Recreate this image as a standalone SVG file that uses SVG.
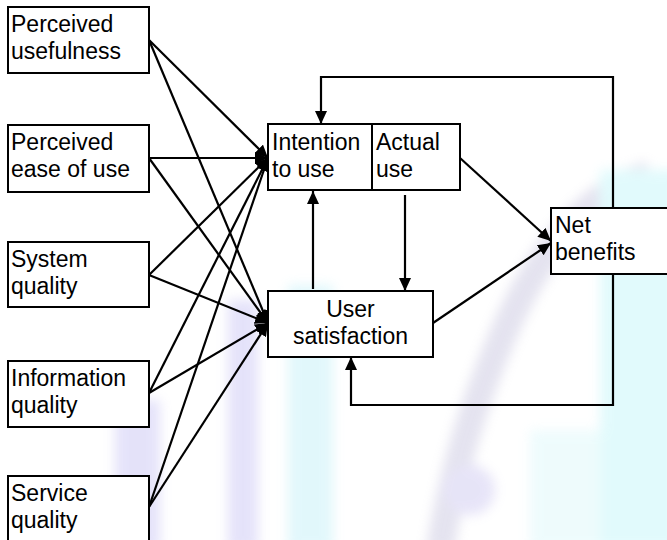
<svg xmlns="http://www.w3.org/2000/svg" width="667" height="540" viewBox="0 0 667 540">
<style>
.box{fill:#fff;stroke:#000;stroke-width:2}
.t{font-family:"Liberation Sans",Arial,sans-serif;font-size:23px;fill:#000}
.c{fill:none;stroke:#000;stroke-width:2.2}
</style>
<defs>
<marker id="ah" markerUnits="userSpaceOnUse" markerWidth="14" markerHeight="12" refX="13" refY="6" orient="auto">
<path d="M0,0 L13,6 L0,12 z" fill="#000"/>
</marker>
<filter id="blur" x="-20%" y="-20%" width="140%" height="140%">
<feGaussianBlur stdDeviation="6"/>
</filter>
</defs>
<rect width="667" height="540" fill="#fff"/>
<g id="watermark" filter="url(#blur)" opacity="0.3">
<rect x="115" y="400" width="45" height="150" fill="#a9a2ee"/>
<rect x="228" y="300" width="30" height="250" fill="#a9a2ee"/>
<rect x="288" y="285" width="45" height="265" fill="#9fe6f4"/>
<path d="M650,175 C590,190 540,250 505,330 C475,400 455,460 440,550" fill="none" stroke="#a8a4cc" stroke-width="28"/>
<circle cx="470" cy="490" r="25" fill="#b0a8e8"/>
<rect x="600" y="170" width="80" height="380" fill="#9ff0f6"/>
<rect x="530" y="430" width="70" height="120" fill="#c8f4f8"/>
</g>
<g id="connectors">
<line class="c" x1="149" y1="40" x2="268" y2="158" marker-end="url(#ah)"/>
<line class="c" x1="149" y1="40" x2="268" y2="323" marker-end="url(#ah)"/>
<line class="c" x1="149" y1="158" x2="268" y2="158" marker-end="url(#ah)"/>
<line class="c" x1="149" y1="158" x2="268" y2="323" marker-end="url(#ah)"/>
<line class="c" x1="149" y1="275" x2="268" y2="158" marker-end="url(#ah)"/>
<line class="c" x1="149" y1="275" x2="268" y2="323" marker-end="url(#ah)"/>
<line class="c" x1="149" y1="393" x2="268" y2="158" marker-end="url(#ah)"/>
<line class="c" x1="149" y1="393" x2="268" y2="323" marker-end="url(#ah)"/>
<line class="c" x1="149" y1="507" x2="268" y2="158" marker-end="url(#ah)"/>
<line class="c" x1="149" y1="507" x2="268" y2="323" marker-end="url(#ah)"/>
<line class="c" x1="460" y1="158" x2="551" y2="241" marker-end="url(#ah)"/>
<line class="c" x1="433" y1="323" x2="551" y2="243" marker-end="url(#ah)"/>
<polyline class="c" points="613,208 613,77 321,77 321,124" marker-end="url(#ah)"/>
<polyline class="c" points="613,274 613,405 351,405 351,357" marker-end="url(#ah)"/>
<line class="c" x1="313" y1="289" x2="313" y2="191" marker-end="url(#ah)"/>
<line class="c" x1="405" y1="195" x2="405" y2="291" marker-end="url(#ah)"/>
</g>
<g id="perceived-usefulness">
<rect class="box" x="8" y="7" width="141" height="66"/>
<text class="t" x="11" y="32">Perceived</text>
<text class="t" x="11" y="59">usefulness</text>
</g>
<g id="perceived-ease-of-use">
<rect class="box" x="8" y="125" width="141" height="67"/>
<text class="t" x="11" y="150">Perceived</text>
<text class="t" x="11" y="177">ease of use</text>
</g>
<g id="system-quality">
<rect class="box" x="8" y="242" width="141" height="65"/>
<text class="t" x="11" y="267">System</text>
<text class="t" x="11" y="294">quality</text>
</g>
<g id="information-quality">
<rect class="box" x="8" y="361" width="141" height="66"/>
<text class="t" x="11" y="386">Information</text>
<text class="t" x="11" y="413">quality</text>
</g>
<g id="service-quality">
<rect class="box" x="8" y="476" width="141" height="70"/>
<text class="t" x="11" y="501">Service</text>
<text class="t" x="11" y="528">quality</text>
</g>
<g id="intention-actual-use">
<rect class="box" x="268" y="124" width="192" height="66"/>
<line x1="372" y1="124" x2="372" y2="190" stroke="#000" stroke-width="2"/>
<text class="t" x="272" y="150">Intention</text>
<text class="t" x="272" y="177">to use</text>
<text class="t" x="376" y="150">Actual</text>
<text class="t" x="376" y="177">use</text>
</g>
<g id="user-satisfaction">
<rect class="box" x="268" y="291" width="165" height="66"/>
<text class="t" x="350.5" y="317" text-anchor="middle">User</text>
<text class="t" x="350.5" y="344" text-anchor="middle">satisfaction</text>
</g>
<g id="net-benefits">
<rect class="box" x="551" y="208" width="130" height="66"/>
<text class="t" x="555" y="233">Net</text>
<text class="t" x="555" y="260">benefits</text>
</g>
</svg>
